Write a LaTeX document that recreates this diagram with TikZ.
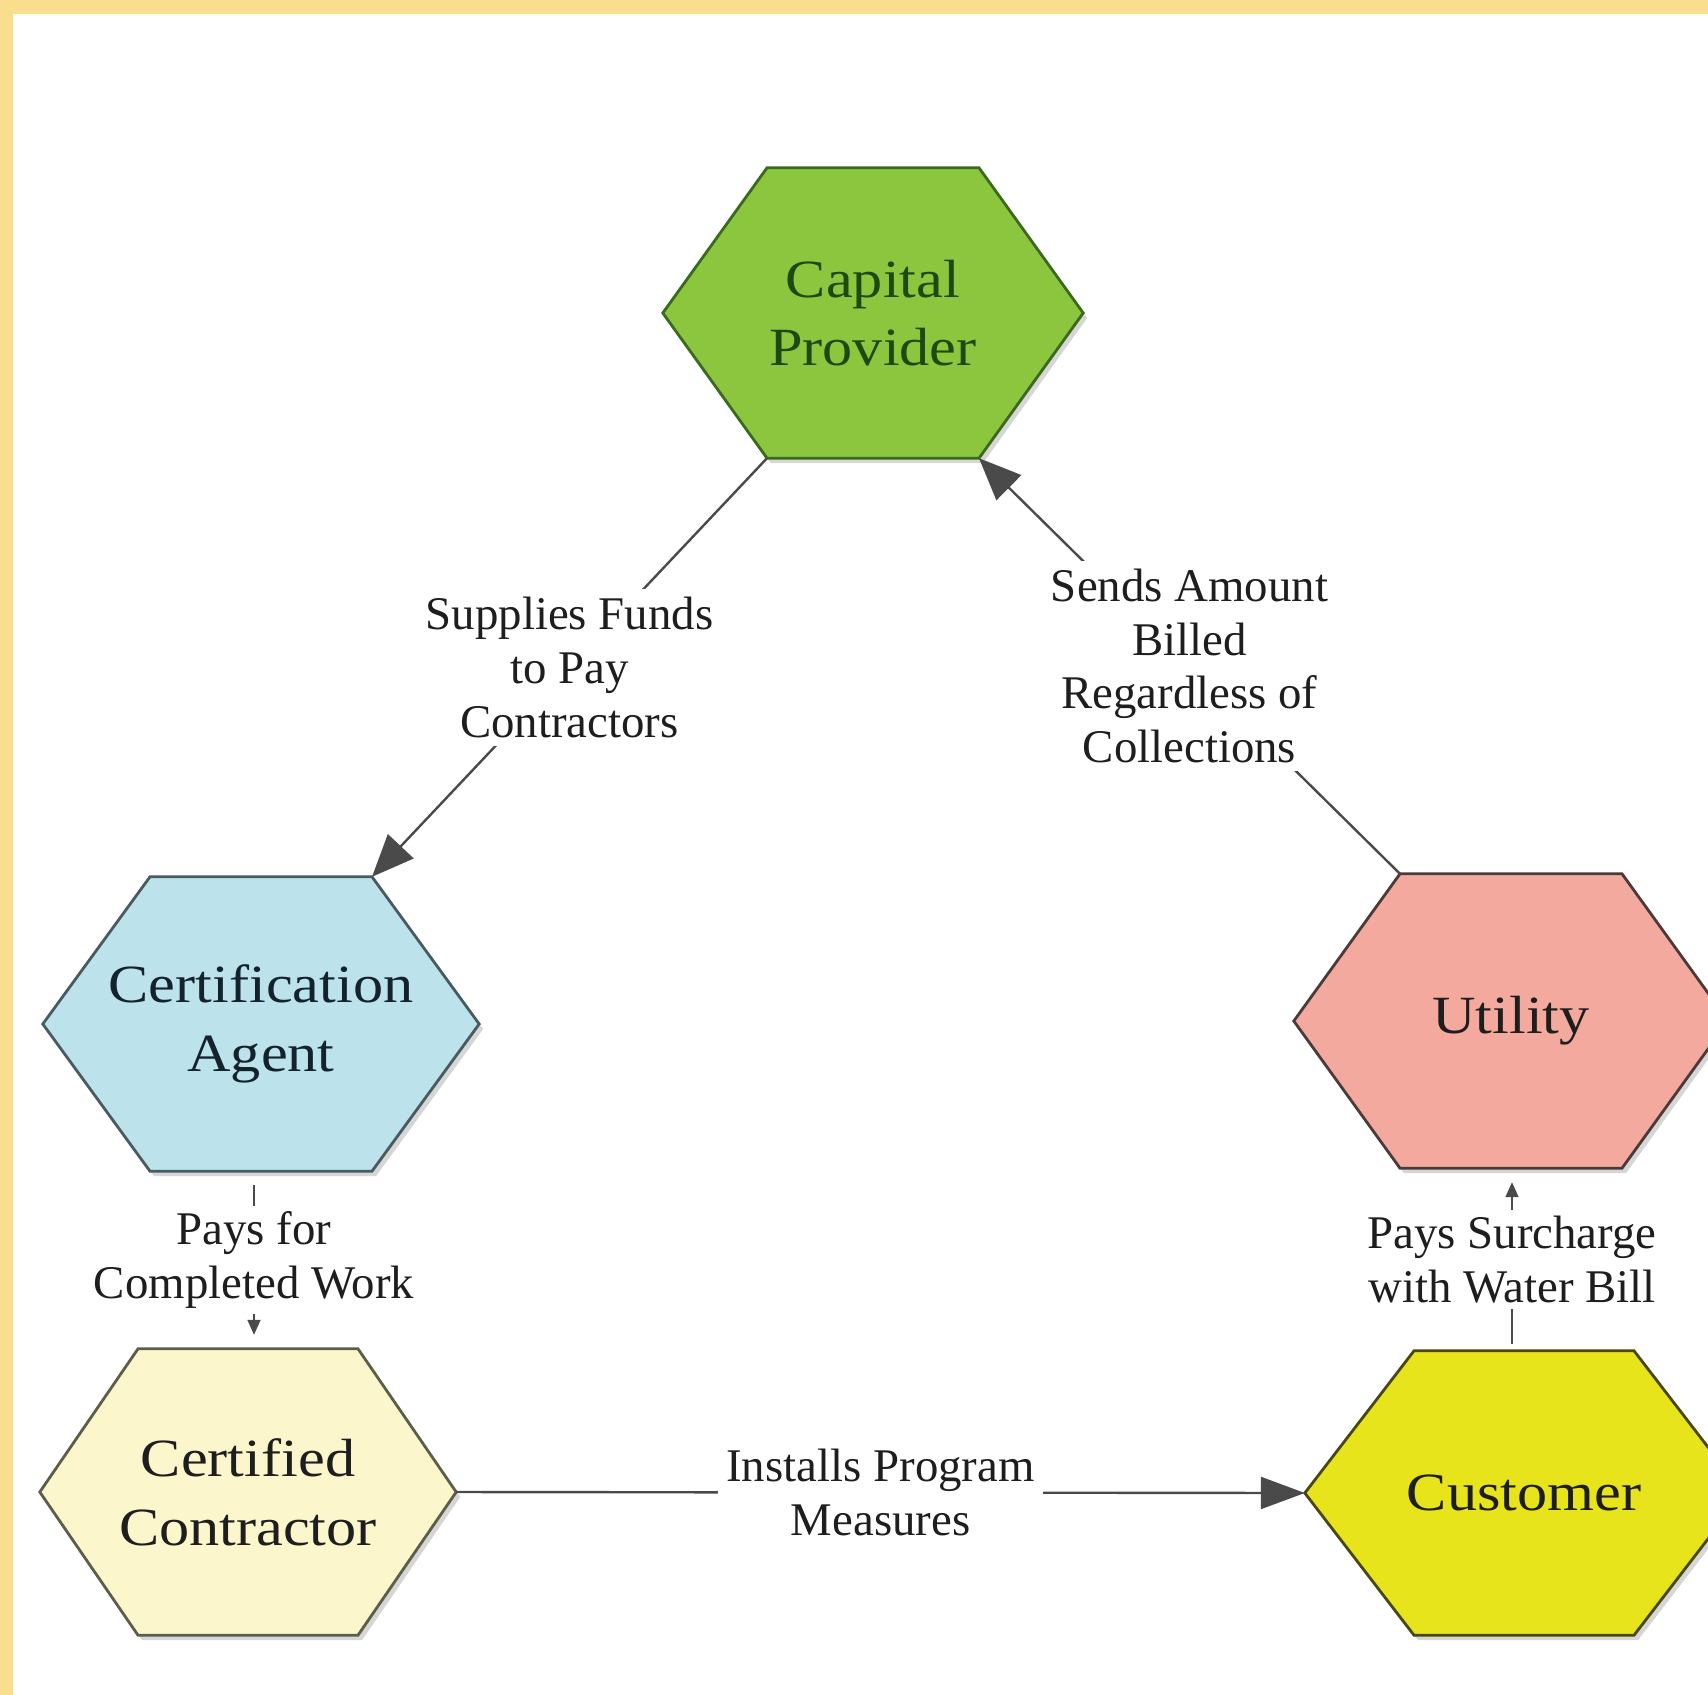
\documentclass[tikz,border=0pt]{standalone}
\usepackage{fontspec}
\setmainfont{Liberation Serif}
\newfontfamily\hexfont{Liberation Serif}[FakeStretch=1.12]
\usetikzlibrary{arrows.meta}
\pgfdeclarelayer{background}
\pgfsetlayers{background,main}
\definecolor{frameY}{HTML}{F9DF8D}
\definecolor{cpFill}{HTML}{8CC63F}
\definecolor{cpLine}{HTML}{3B6A1E}
\definecolor{cpText}{HTML}{1C4A12}
\definecolor{caFill}{HTML}{BCE2EC}
\definecolor{caLine}{HTML}{4A5A5E}
\definecolor{caText}{HTML}{13222B}
\definecolor{utFill}{HTML}{F4A99F}
\definecolor{utLine}{HTML}{4A3A38}
\definecolor{ccFill}{HTML}{FBF6CB}
\definecolor{ccLine}{HTML}{5E5C4A}
\definecolor{cuFill}{HTML}{E8E41C}
\definecolor{cuLine}{HTML}{48480E}
\definecolor{connCol}{HTML}{4A4A4A}
\definecolor{lblText}{HTML}{1E1E1E}
\tikzset{
  hexn/.style={inner sep=0pt, align=center, font=\hexfont\fontsize{54}{69}\selectfont, text=lblText},
  hexshadow/.style={fill=black, opacity=0.16},
  conn/.style={draw=connCol, line width=2.4bp},
  connthin/.style={draw=connCol, line width=1.6bp},
  bighead/.style={-{Triangle[length=42bp,width=35bp]}},
  smallhead/.style={-{Triangle[length=15bp,width=13bp]}},
  lbl/.style={fill=white, text=lblText, align=center, inner sep=8bp,
    font=\fontsize{47}{54}\selectfont},
}
\newcommand\hexdraw[3]{%
  \begin{pgfonlayer}{background}
  \fill[hexshadow] ([shift={(4,5)}]#1.west) -- ([shift={(4,5)},xshift=-#2]#1.north)
    -- ([shift={(4,5)},xshift=#2]#1.north) -- ([shift={(4,5)}]#1.east)
    -- ([shift={(4,5)},xshift=#2]#1.south) -- ([shift={(4,5)},xshift=-#2]#1.south) -- cycle;
  \draw[#3, line width=2.8bp, line join=miter] (#1.west) -- ([xshift=-#2]#1.north) -- ([xshift=#2]#1.north)
    -- (#1.east) -- ([xshift=#2]#1.south) -- ([xshift=-#2]#1.south) -- cycle;
  \end{pgfonlayer}}
\begin{document}
\begin{tikzpicture}[x=1bp,y=-1bp]
\useasboundingbox (0,0) rectangle (1708,1695);
\begin{pgfonlayer}{background}
\fill[frameY] (0,0) rectangle (1708,1695);
\fill[white] (13,14) rectangle (1708,1695);
\end{pgfonlayer}

\node[hexn, minimum width=420bp, minimum height=290bp, text=cpText] (CP) at (873,313) {Capital\\Provider};
\node[hexn, minimum width=436bp, minimum height=294bp, text=caText] (CA) at (261,1024) {Certification\\Agent};
\node[hexn, minimum width=434bp, minimum height=294bp] (Ut) at (1511,1021) {Utility};
\node[hexn, minimum width=416bp, minimum height=286bp] (CC) at (248,1492) {Certified\\Contractor};
\node[hexn, minimum width=438bp, minimum height=284bp] (Cu) at (1524,1493) {Customer};

\hexdraw{CP}{106bp}{draw=cpLine, fill=cpFill}
\hexdraw{CA}{111bp}{draw=caLine, fill=caFill}
\hexdraw{Ut}{111bp}{draw=utLine, fill=utFill}
\hexdraw{CC}{110bp}{draw=ccLine, fill=ccFill}
\hexdraw{Cu}{110bp}{draw=cuLine, fill=cuFill}

\draw[conn, bighead] ([xshift=-106bp]CP.south) -- node[lbl] {Supplies Funds\\to Pay\\Contractors} ([xshift=111bp]CA.north);
\draw[conn, bighead] ([xshift=-111bp]Ut.north) -- node[lbl] {Sends Amount\\Billed\\Regardless of\\Collections} ([xshift=106bp]CP.south);
\draw[connthin, smallhead, shorten <=14bp, shorten >=14bp] ([xshift=-7bp]CA.south) -- node[lbl, inner sep=6bp] {Pays for\\Completed Work} ([xshift=6bp]CC.north);
\draw[connthin, smallhead, shorten <=7bp, shorten >=14bp] ([xshift=-12bp]Cu.north) -- node[lbl, inner sep=6bp] {Pays Surcharge\\with Water Bill} ([xshift=1bp]Ut.south);
\draw[conn, -{Triangle[length=44bp,width=32bp]}] (CC.east) -- node[lbl] {Installs Program\\Measures} (Cu.west);
\end{tikzpicture}
\end{document}
